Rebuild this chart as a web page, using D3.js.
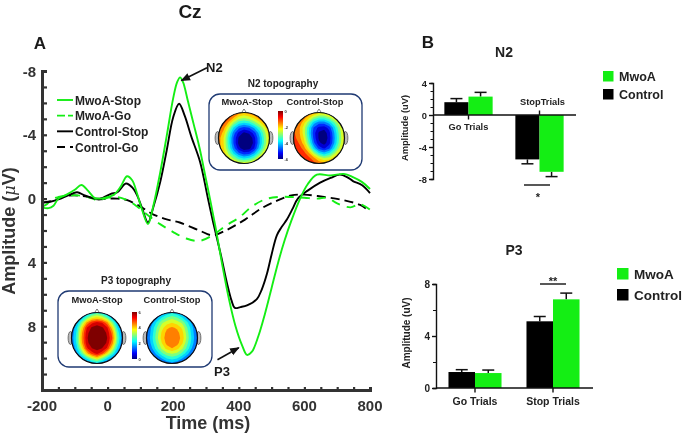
<!DOCTYPE html>
<html><head><meta charset="utf-8">
<script src="https://cdn.jsdelivr.net/npm/d3@7"></script>
<style>
html,body{margin:0;padding:0;background:#fff}
svg{display:block;filter:blur(0.35px)}
text{font-family:"Liberation Sans",Arial,sans-serif;font-weight:bold;fill:#1a1a1a}
</style></head><body><svg id="c" width="685" height="433"></svg>
<script>
// ---------- Panel A: waveforms (time in ms, amplitude in uV) ----------
const stopMwoaT = [-200,-180,-165,-150,-125,-100,-80,-60,-40,-20,0,20,40,59,75,90,105,123,140,160,180,200,212,221,230,245,262,280,300,312,330,350,370,390,410,425,440,460,480,500,520,540,560,587,610,638,680,720,748,775,800];
const stopMwoaV = [0.55,0.6,0.45,0.0,-0.25,-0.55,-0.85,-0.5,-0.05,0.0,-0.1,-0.25,-0.75,-1.4,-1.15,-0.3,0.7,1.6,0.4,-1.6,-3.9,-6.3,-7.3,-7.6,-7.3,-6.1,-4.7,-3.2,-1.2,0.0,1.9,4.2,6.3,8.0,9.2,9.8,9.6,8.6,7.2,5.6,4.0,2.6,1.4,0.0,-0.9,-1.5,-1.45,-1.55,-1.35,-1.05,-0.6];
const stopControlT = [-200,-175,-150,-120,-93,-70,-40,-15,10,30,56,75,90,105,123,140,160,180,200,218,235,255,282,306,322,345,364,378,388,405,425,455,470,486,500,516,530,547,565,580,610,648,680,708,730,748,775,800];
const stopControlV = [0.25,0.2,0.05,-0.2,-0.4,-0.2,0.0,-0.05,-0.3,-0.4,-0.95,-0.7,-0.2,0.6,1.5,0.5,-1.0,-3.0,-5.1,-5.95,-5.2,-3.9,-2.3,0.0,1.5,3.5,5.3,6.4,6.85,6.8,6.7,6.3,5.7,4.7,3.5,2.3,1.8,1.3,0.6,0.0,-0.5,-1.0,-1.3,-1.5,-1.35,-1.1,-0.85,-0.35];
const goMwoaT = [-200,-185,-170,-150,-120,-90,-60,-30,0,30,60,90,120,160,200,240,280,320,360,400,440,480,520,560,600,640,670,700,740,770,800];
const goMwoaV = [0.5,0.35,0.05,-0.1,-0.2,-0.2,-0.1,0.1,-0.05,-0.1,0.1,0.5,1.0,1.6,2.1,2.5,2.65,2.3,1.7,1.2,0.5,0.05,-0.1,-0.1,-0.05,0.0,-0.05,0.3,0.55,0.35,0.7];
const goControlT = [-200,-160,-130,-100,-60,-30,0,30,60,100,140,180,220,280,320,360,420,470,520,560,600,660,720,770,800];
const goControlV = [0.25,0.1,-0.15,-0.2,-0.1,0.05,0.0,0.0,0.1,0.5,1.0,1.3,1.5,2.0,2.3,2.0,1.3,0.6,0.1,-0.2,-0.25,-0.1,0.1,0.4,0.8];
const seriesNames = ["MwoA-Stop","MwoA-Go","Control-Stop","Control-Go"];
const timeTicks = [-200,0,200,400,600,800];
const amplitudeTicks = [-8,-4,0,4,8];

// ---------- Panel B: bars ----------
const trialsN2 = ["Go Trials","StopTrials"];
const trialsP3 = ["Go Trials","Stop Trials"];
const groups = ["Control","MwoA"];
const n2Control = [1.6,-5.55];
const n2ControlErr = [2.05,-6.1];
const n2Mwoa = [2.3,-7.1];
const n2MwoaErr = [2.83,-7.7];
const p3Control = [1.23,5.13];
const p3ControlErr = [1.41,5.5];
const p3Mwoa = [1.15,6.82];
const p3MwoaErr = [1.38,7.3];

// ---------- Topographies (uV, 11x11 scalp grid, top row = front) ----------
const topoN2Mwoa = [
[-0.5,-0.5,-0.6,-0.8,-1.2,-1.5,-1.2,-1.0,-0.8,-0.6,-0.5],
[-0.5,-0.6,-0.8,-1.5,-2.2,-2.4,-2.2,-1.8,-1.2,-0.8,-0.6],
[-0.6,-0.8,-1.6,-2.6,-3.3,-3.5,-3.3,-2.8,-2.2,-1.4,-1.0],
[-0.8,-1.3,-2.4,-3.6,-4.4,-4.7,-4.5,-3.9,-3.1,-2.2,-1.4],
[-1.0,-1.7,-3.0,-4.3,-5.2,-5.6,-5.4,-4.8,-3.8,-2.7,-1.7],
[-1.2,-2.0,-3.3,-4.6,-5.6,-6.2,-6.0,-5.2,-4.1,-2.9,-1.8],
[-1.2,-2.0,-3.3,-4.6,-5.7,-6.3,-6.1,-5.3,-4.1,-2.9,-1.8],
[-1.2,-1.9,-3.1,-4.3,-5.3,-5.9,-5.7,-5.0,-3.8,-2.6,-1.6],
[-1.1,-1.7,-2.6,-3.6,-4.4,-4.8,-4.7,-4.0,-3.0,-2.0,-1.3],
[-1.0,-1.4,-2.0,-2.6,-3.2,-3.5,-3.3,-2.8,-2.0,-1.4,-1.1],
[-0.9,-1.1,-1.4,-1.7,-2.0,-2.1,-2.0,-1.7,-1.4,-1.1,-1.0]];
const topoN2Control = [
[-0.6,-0.6,-0.8,-1.0,-1.4,-1.8,-1.8,-1.4,-1.0,-0.8,-0.6],
[-0.6,-0.8,-1.2,-1.8,-2.6,-3.0,-3.0,-2.6,-2.0,-1.4,-1.0],
[-0.8,-1.0,-1.8,-2.8,-3.8,-4.3,-4.3,-3.8,-3.0,-2.2,-1.4],
[-0.9,-1.3,-2.2,-3.4,-4.6,-5.2,-5.3,-4.8,-3.7,-2.6,-1.7],
[-0.9,-1.3,-2.2,-3.5,-4.8,-5.6,-5.8,-5.2,-4.0,-2.8,-1.8],
[-0.8,-1.2,-2.0,-3.3,-4.7,-5.6,-5.9,-5.3,-4.1,-2.9,-1.8],
[-0.6,-1.0,-1.7,-3.0,-4.4,-5.4,-5.7,-5.2,-4.0,-2.8,-1.8],
[-0.5,-0.7,-1.2,-2.3,-3.7,-4.7,-5.1,-4.6,-3.5,-2.4,-1.6],
[-0.4,-0.5,-0.8,-1.4,-2.5,-3.4,-3.8,-3.4,-2.6,-1.8,-1.2],
[-0.4,-0.4,-0.5,-0.8,-1.3,-2.0,-2.4,-2.2,-1.7,-1.3,-1.0],
[-0.4,-0.4,-0.4,-0.5,-0.8,-1.1,-1.3,-1.3,-1.2,-1.0,-0.9]];
const topoP3Mwoa = [
[0.8,1.0,1.4,1.9,2.4,2.8,2.4,1.9,1.4,1.0,0.8],
[1.0,1.3,2.0,3.0,3.8,4.1,3.8,3.0,2.0,1.3,1.0],
[1.2,2.0,3.2,4.6,5.4,5.7,5.5,4.7,3.3,2.0,1.2],
[1.4,2.4,4.0,5.5,6.1,6.3,6.1,5.6,4.2,2.5,1.4],
[1.5,2.6,4.4,5.8,6.4,6.5,6.4,5.9,4.8,2.9,1.6],
[1.6,2.7,4.5,5.9,6.5,6.6,6.5,6.0,5.0,3.1,1.7],
[1.5,2.6,4.4,5.8,6.4,6.5,6.4,5.9,4.7,2.9,1.5],
[1.3,2.3,3.8,5.4,6.0,6.2,6.0,5.4,3.9,2.4,1.3],
[1.1,1.8,3.0,4.3,5.3,5.7,5.2,4.1,2.9,1.8,1.1],
[0.8,1.2,1.8,2.6,3.4,4.0,3.2,2.4,1.7,1.2,0.8],
[0.6,0.8,1.0,1.4,1.9,2.2,1.8,1.3,1.0,0.8,0.6]];
const topoP3Control = [
[0.8,1.0,1.3,1.7,2.1,2.4,2.1,1.7,1.3,1.0,0.8],
[1.0,1.3,1.8,2.5,3.0,3.3,3.0,2.5,1.8,1.3,1.0],
[1.2,1.8,2.6,3.4,3.8,4.0,3.8,3.4,2.6,1.8,1.2],
[1.3,2.1,3.0,3.8,4.4,4.6,4.4,3.9,3.0,2.1,1.3],
[1.4,2.2,3.2,4.1,4.7,4.9,4.7,4.2,3.2,2.2,1.4],
[1.4,2.3,3.3,4.2,4.8,5.0,4.8,4.3,3.3,2.3,1.4],
[1.3,2.2,3.1,4.0,4.7,4.9,4.7,4.1,3.1,2.2,1.3],
[1.2,1.9,2.8,3.6,4.2,4.5,4.2,3.6,2.8,1.9,1.2],
[1.0,1.5,2.2,2.9,3.4,3.6,3.4,2.9,2.2,1.5,1.0],
[0.8,1.1,1.5,2.0,2.5,2.7,2.5,2.0,1.5,1.1,0.8],
[0.6,0.8,1.0,1.3,1.6,1.8,1.6,1.3,1.0,0.8,0.6]];
const jetColors = ["#00007f","#0000ff","#007fff","#00ffff","#7fff7f","#ffff00","#ff7f00","#ff0000","#7f0000"];

const GREEN = "#14ee14", BLACK = "#000";
const svg = d3.select("#c");

// ===== Panel A =====
const x = d3.scaleLinear().domain([-200,800]).range([42,370]);
const y = d3.scaleLinear().domain([-8,12]).range([71,390]);
const line = d3.line().x(d=>x(d[0])).y(d=>y(d[1])).curve(d3.curveCatmullRom.alpha(0.5));
const zip = (a,b)=>a.map((v,i)=>[v,b[i]]);
const waves = [
 {t:goControlT,v:goControlV,c:BLACK,dash:"9 5"},
 {t:goMwoaT,v:goMwoaV,c:GREEN,dash:"9 7"},
 {t:stopControlT,v:stopControlV,c:BLACK,dash:null},
 {t:stopMwoaT,v:stopMwoaV,c:GREEN,dash:null}];
const gw = svg.append("g");
waves.forEach(w=>gw.append("path").attr("d",line(zip(w.t,w.v))).attr("fill","none")
  .attr("stroke",w.c).attr("stroke-width",1.9).attr("stroke-dasharray",w.dash));

const axisColor="#333";
const yAxis = svg.append("g").attr("transform","translate(42,0)")
  .call(d3.axisRight(y).tickValues(d3.range(-8,13)).tickSize(5).tickFormat(""));
const xAxis = svg.append("g").attr("transform","translate(0,390)")
  .call(d3.axisTop(x).tickValues(d3.range(-200,801,50)).tickSize(3).tickFormat(""));
[yAxis,xAxis].forEach(g=>{g.selectAll("path").attr("stroke",axisColor).attr("stroke-width",3);
  g.selectAll("line").attr("stroke",axisColor).attr("stroke-width",2.2);});
svg.selectAll(".ya").data(amplitudeTicks).enter().append("text").attr("x",36).attr("y",d=>y(d)+5.5)
  .attr("text-anchor","end").attr("font-size",15).style("fill","#333").text(d=>d);
svg.selectAll(".xa").data(timeTicks).enter().append("text").attr("x",d=>x(d)).attr("y",411)
  .attr("text-anchor","middle").attr("font-size",15).style("fill","#333").text(d=>d);
svg.append("text").attr("x",208).attr("y",429).attr("text-anchor","middle").attr("font-size",18).style("fill","#333").text("Time (ms)");
const yl = svg.append("text").attr("transform","translate(15,231) rotate(-90)").attr("text-anchor","middle").attr("font-size",18).style("fill","#333");
yl.append("tspan").text("Amplitude (");
yl.append("tspan").attr("font-style","italic").style("font-family","DejaVu Serif").attr("font-size",16).style("font-weight","normal").text("μ");
yl.append("tspan").text("V)");

svg.append("text").attr("x",190).attr("y",18).attr("text-anchor","middle").attr("font-size",19).text("Cz");
svg.append("text").attr("x",40).attr("y",49).attr("text-anchor","middle").attr("font-size",17).text("A");
svg.append("text").attr("x",428).attr("y",48).attr("text-anchor","middle").attr("font-size",17).text("B");

// legend
const legY = d3.scalePoint().domain(seriesNames).range([100,147]);
const legStyle = {"MwoA-Stop":[GREEN,null],"MwoA-Go":[GREEN,"8 3 4 0"],"Control-Stop":[BLACK,null],"Control-Go":[BLACK,"8 5 2 0"]};
seriesNames.forEach(n=>{
  svg.append("line").attr("x1",57).attr("x2",73).attr("y1",legY(n)).attr("y2",legY(n))
    .attr("stroke",legStyle[n][0]).attr("stroke-width",1.9).attr("stroke-dasharray",legStyle[n][1]);
  svg.append("text").attr("x",75).attr("y",legY(n)+4.5).attr("font-size",12).style("fill","#222").text(n);
});

// annotations
const defs = svg.append("defs");
defs.append("marker").attr("id","ah").attr("viewBox","0 0 10 10").attr("refX",9).attr("refY",5)
 .attr("markerWidth",6).attr("markerHeight",6).attr("orient","auto").append("path").attr("d","M0,1L10,5L0,9Z").attr("fill","#111");
function arrow(t1,v1,t2,v2){svg.append("line").attr("x1",x(t1)).attr("y1",y(v1)).attr("x2",x(t2)).attr("y2",y(v2))
  .attr("stroke","#111").attr("stroke-width",1.6).attr("marker-end","url(#ah)");}
arrow(303,-8.2,225,-7.4);
arrow(335,10.1,400,9.35);
svg.append("text").attr("x",206).attr("y",72).attr("font-size",13).text("N2");
svg.append("text").attr("x",214).attr("y",376).attr("font-size",13).text("P3");

// ===== Topographies =====
function jet(lo,hi){const s=d3.scaleLinear().domain(d3.range(jetColors.length).map(i=>lo+(hi-lo)*i/(jetColors.length-1))).range(jetColors).clamp(true);return s;}
let clipN=0;
function head(cx,cy,r,grid,lo,hi){
  const col=jet(lo,hi), n=grid[0].length, flat=grid.flat();
  const th=d3.range(lo-1,hi+1.001,(hi-lo)/12);
  const cont=d3.contours().size([n,n]).smooth(true).thresholds(th)(flat);
  const g=svg.append("g");
  const id="clip"+(clipN++);
  defs.append("clipPath").attr("id",id).append("circle").attr("cx",cx).attr("cy",cy).attr("r",r);
  // ears and nose
  [-1,1].forEach(s=>g.append("ellipse").attr("cx",cx+s*(r+1)).attr("cy",cy).attr("rx",2.4).attr("ry",6.5)
    .attr("fill","#bbb").attr("stroke","#444").attr("stroke-width",.7));
  g.append("path").attr("d",d3.line()([[cx-3,cy-r+1],[cx,cy-r-3.5],[cx+3,cy-r+1]])).attr("fill","#fff").attr("stroke","#444").attr("stroke-width",.7);
  const sc=2*r/(n-1);
  const path=d3.geoPath(d3.geoTransform({point(px,py){this.stream.point(cx-r+(px-.5)*sc,cy-r+(py-.5)*sc);}}));
  const m=g.append("g").attr("clip-path",`url(#${id})`);
  m.append("circle").attr("cx",cx).attr("cy",cy).attr("r",r).attr("fill",col(lo));
  m.selectAll("path").data(cont).enter().append("path").attr("d",path).attr("fill",d=>col(d.value));
  g.append("circle").attr("cx",cx).attr("cy",cy).attr("r",r).attr("fill","none").attr("stroke","#111").attr("stroke-width",1.2);
}
function colorbar(px,top,bot,lo,hi,labels,id){
  const col=jet(lo,hi);
  const gr=defs.append("linearGradient").attr("id",id).attr("x1",0).attr("x2",0).attr("y1",1).attr("y2",0);
  col.domain().forEach((d,i)=>gr.append("stop").attr("offset",i/(jetColors.length-1)).attr("stop-color",col(d)));
  svg.append("rect").attr("x",px).attr("y",top).attr("width",5).attr("height",bot-top).attr("fill",`url(#${id})`);
  const s=d3.scaleLinear().domain([lo,hi]).range([bot,top]);
  labels.forEach(l=>svg.append("text").attr("x",px+6.5).attr("y",s(l)+1.5).attr("font-size",4).style("fill","#333").text(l));
}
function box(x0,y0,x1,y1){svg.append("rect").attr("x",x0).attr("y",y0).attr("width",x1-x0).attr("height",y1-y0).attr("rx",11)
  .attr("fill","#fff").attr("stroke","#1f3a73").attr("stroke-width",1.3);}
function lab(px,py,t,fs){svg.append("text").attr("x",px).attr("y",py).attr("text-anchor","middle").attr("font-size",fs).style("fill","#222").text(t);}

box(209,94,362,170);
lab(283,87,"N2 topography",10);
lab(247,105,"MwoA-Stop",9.3); lab(315,105,"Control-Stop",9.3);
head(244,138,25.5,topoN2Mwoa,-6,0); head(319,138,25.5,topoN2Control,-6,0);
colorbar(278,111,159,-6,0,[0,-2,-4,-6],"cbN2");

box(58,291,212,367);
lab(136,284,"P3 topography",10);
lab(97,303,"MwoA-Stop",9.3); lab(172,303,"Control-Stop",9.3);
head(97,338,25.5,topoP3Mwoa,0,6); head(172,338,25.5,topoP3Control,0,6);
colorbar(132,312,359,0,6,[6,4,2,0],"cbP3");

// ===== Panel B =====
function bars(o){
  const yS=d3.scaleLinear().domain(o.dom).range(o.yr);
  const x0=d3.scaleBand().domain(o.cats).range(o.xr).paddingInner(.32).paddingOuter(.16);
  const x1=d3.scaleBand().domain(groups).range([0,x0.bandwidth()]);
  const fill={Control:BLACK,MwoA:GREEN};
  const vals={Control:[o.c,o.ce],MwoA:[o.m,o.me]};
  const g=svg.append("g");
  groups.forEach(k=>{
    o.cats.forEach((cat,i)=>{
      const v=vals[k][0][i],e=vals[k][1][i],bx=x0(cat)+x1(k),bw=x1.bandwidth(),cx=bx+bw/2;
      g.append("line").attr("x1",cx).attr("x2",cx).attr("y1",yS(v)).attr("y2",yS(e)).attr("stroke","#111").attr("stroke-width",1.5);
      g.append("line").attr("x1",cx-6).attr("x2",cx+6).attr("y1",yS(e)).attr("y2",yS(e)).attr("stroke","#111").attr("stroke-width",1.5);
      g.append("rect").attr("x",bx).attr("width",bw).attr("y",Math.min(yS(v),yS(0))).attr("height",Math.abs(yS(v)-yS(0))).attr("fill",fill[k]);
    });
  });
  const ax=svg.append("g").attr("transform",`translate(${o.xr[0]},0)`)
    .call(d3.axisLeft(yS).tickValues(o.minor).tickSize(o.minorSize).tickFormat(""));
  ax.selectAll("path").attr("stroke","#111").attr("stroke-width",1.4);
  ax.selectAll("line").attr("stroke","#111").attr("stroke-width",1);
  svg.append("g").attr("transform",`translate(${o.xr[0]},0)`)
    .call(d3.axisLeft(yS).tickValues(o.major).tickSize(4).tickFormat(""))
    .call(s=>{s.select("path").remove();s.selectAll("line").attr("stroke","#111").attr("stroke-width",1.4);});
  svg.selectAll(null).data(o.major).enter().append("text").attr("x",o.xr[0]-6).attr("y",d=>yS(d)+4)
    .attr("text-anchor","end").attr("font-size",o.fs).style("fill","#222").text(d=>d);
  svg.append("line").attr("x1",o.xr[0]).attr("x2",o.axisEnd).attr("y1",yS(0)).attr("y2",yS(0)).attr("stroke","#111").attr("stroke-width",1.5);
  o.cats.forEach((cat,i)=>{
    const cx=x0(cat)+x0.bandwidth()/2, dir=o.tickDir[i];
    svg.append("line").attr("x1",cx).attr("x2",cx).attr("y1",yS(0)).attr("y2",yS(0)+dir*4.5).attr("stroke","#111").attr("stroke-width",1.4);
    svg.append("text").attr("x",cx+o.labelDx[i]).attr("y",o.labelY[i]).attr("text-anchor","middle").attr("font-size",o.lfs).style("fill","#222").text(cat);
  });
  svg.append("text").attr("transform",`translate(${o.ylx},${o.yly}) rotate(-90)`).attr("text-anchor","middle").attr("font-size",o.fs).style("fill","#222").text("Amplitude (uV)");
  return yS;
}
bars({cats:trialsN2,c:n2Control,ce:n2ControlErr,m:n2Mwoa,me:n2MwoaErr,dom:[-8,4],yr:[179,83],xr:[433,575],axisEnd:576,
  minor:d3.range(-8,5),minorSize:2.5,major:[-8,-4,0,4],fs:9.3,lfs:9.3,tickDir:[1,-1],labelDx:[0,3],labelY:[130,105],ylx:408,yly:128});
bars({cats:trialsP3,c:p3Control,ce:p3ControlErr,m:p3Mwoa,me:p3MwoaErr,dom:[0,8],yr:[388,284],xr:[436,592],axisEnd:593,
  minor:d3.range(0,9,2),minorSize:3,major:[0,4,8],fs:10,lfs:10.5,tickDir:[1,1],labelDx:[0,0],labelY:[405,405],ylx:410,yly:333});

lab(504,57,"N2",14); lab(514,255,"P3",14);
svg.append("line").attr("x1",524).attr("x2",550).attr("y1",185).attr("y2",185).attr("stroke","#111").attr("stroke-width",1.4);
lab(538,201,"*",11);
svg.append("line").attr("x1",540).attr("x2",566).attr("y1",284).attr("y2",284).attr("stroke","#111").attr("stroke-width",1.4);
lab(553,285,"**",11);

function blegend(px,py1,py2,size,tx,fs){
  [["MwoA",GREEN,py1],["Control",BLACK,py2]].forEach(([t,c,py])=>{
    svg.append("rect").attr("x",px).attr("y",py).attr("width",size).attr("height",size).attr("fill",c);
    svg.append("text").attr("x",tx).attr("y",py+size-1).attr("font-size",fs).style("fill","#222").text(t);
  });
}
blegend(603,71,89,10.5,619,12.5);
blegend(617,268,289,11.5,634,13.5);
</script></body></html>
